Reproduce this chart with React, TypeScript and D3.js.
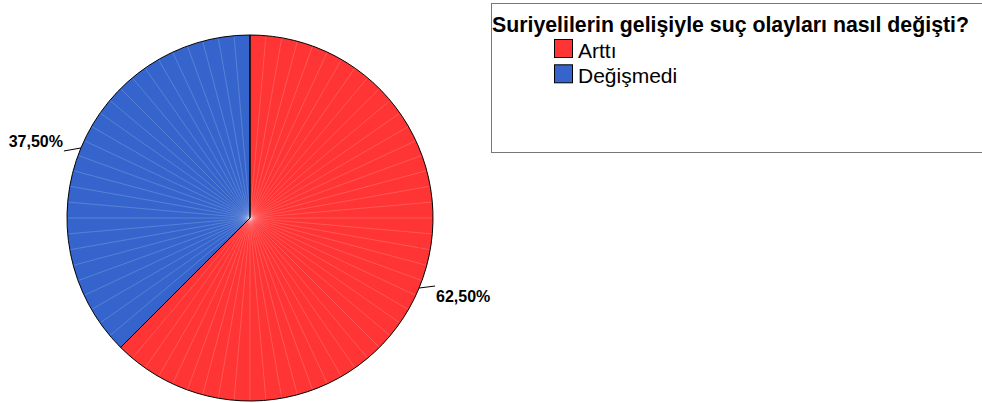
import * as React from "react";
import * as d3 from "d3";

const title = "Suriyelilerin gelişiyle suç olayları nasıl değişti?";
const categories = ["Arttı", "Değişmedi"];
const values = [62.5, 37.5];
const labels = ["62,50%", "37,50%"];
const colors = ["#ff3434", "#3565cc"];

const width = 982;
const height = 403;
const cx = 250;
const cy = 218;
const radius = 183;

const App = () => {
  const pie = d3
    .pie<number>()
    .sort(null)
    .startAngle(0)
    .endAngle(2 * Math.PI)(values);

  const arc = d3.arc<d3.PieArcDatum<number>>().innerRadius(0).outerRadius(radius);

  // faint spokes like the SPSS renderer leaves behind
  const spokes = d3.range(0, 360, 5);

  return (
    <div style={{ position: "absolute", left: 0, top: 0 }}>
      <svg width={width} height={height} style={{ display: "block", fontFamily: "'Liberation Sans', Arial, sans-serif" }}>
        <g transform={`translate(${cx},${cy})`}>
          {pie.map((s, i) => (
            <path key={"slice" + i} d={arc(s) || ""} fill={colors[i]} stroke="none" />
          ))}
          {spokes.map((a) => {
            const r = (a * Math.PI) / 180;
            return (
              <line
                key={"sp" + a}
                x1={0}
                y1={0}
                x2={radius * Math.sin(r)}
                y2={-radius * Math.cos(r)}
                stroke="#ffffff"
                strokeOpacity={0.22}
                strokeWidth={0.8}
              />
            );
          })}
          {pie.map((s, i) => (
            <path key={"edge" + i} d={arc(s) || ""} fill="none" stroke="#000" strokeWidth={1} />
          ))}
          {pie.map((s, i) => {
            const mid = (s.startAngle + s.endAngle) / 2;
            const px = radius * Math.sin(mid);
            const py = -radius * Math.cos(mid);
            const right = px > 0;
            const ex = px + (right ? 16 : -17);
            const ey = py + (right ? -2 : 3);
            return (
              <g key={"lab" + i}>
                <line x1={px} y1={py} x2={ex} y2={ey} stroke="#000" strokeWidth={1} />
                <text
                  x={right ? ex + 1 : ex - 1}
                  y={ey + (right ? 16 : -4)}
                  textAnchor={right ? "start" : "end"}
                  fontSize={16}
                  fontWeight="bold"
                  fill="#000"
                >
                  {labels[i]}
                </text>
              </g>
            );
          })}
        </g>
        <rect x={491.5} y={3.5} width={500} height={149} fill="#fff" stroke="#777" strokeWidth={1} />
        <text x={492} y={32} fontSize={21.3} fontWeight="bold" fill="#000">
          {title}
        </text>
        {categories.map((c, i) => (
          <g key={"leg" + i} transform={`translate(554,${39 + i * 25.3})`}>
            <rect x={0.5} y={0.5} width={18} height={18} fill={colors[i]} stroke="#000" strokeWidth={1} />
            <text x={24} y={18.5} fontSize={21} fill="#000">
              {c}
            </text>
          </g>
        ))}
      </svg>
    </div>
  );
};

export default App;
